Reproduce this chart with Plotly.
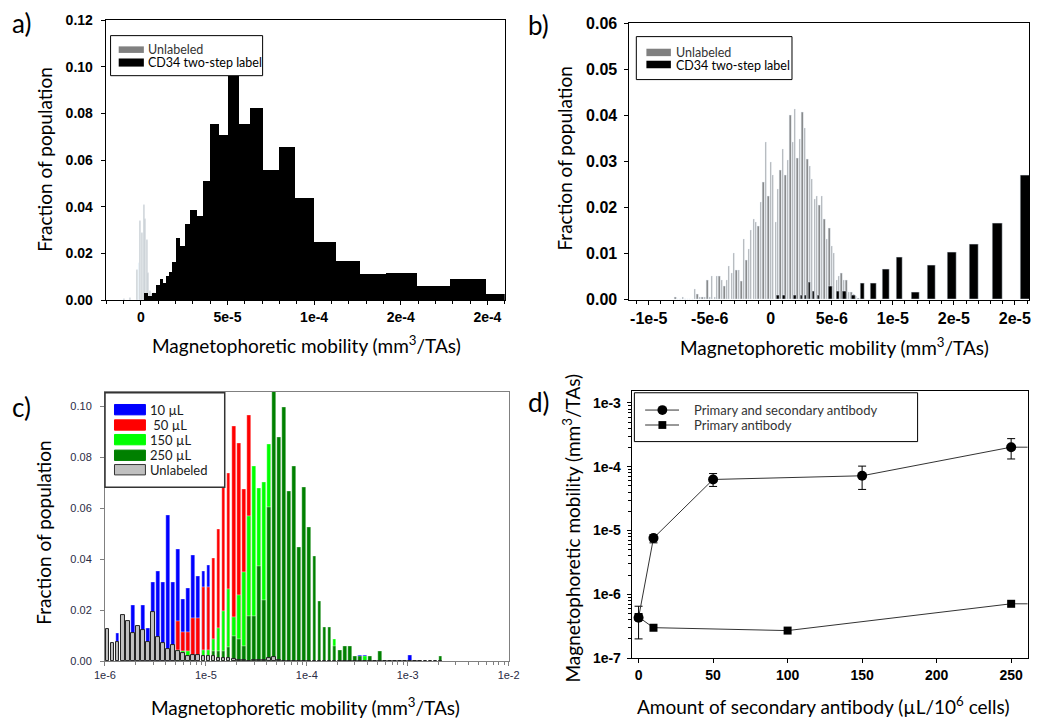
import numpy as np
import plotly.graph_objects as go

W, H = 1050, 726

# ---------------- a) CD34 two-step label vs unlabeled (whole range)
a_cd34_edges = [1.9e-6, 4.1e-6, 6.4e-6, 8.8e-6, 1.07e-5, 1.26e-5, 1.45e-5, 1.62e-5, 1.77e-5,
                2.01e-5, 2.26e-5, 2.52e-5, 2.82e-5, 3.20e-5, 3.54e-5, 3.99e-5, 4.48e-5, 5.00e-5,
                5.62e-5, 6.30e-5, 7.05e-5, 7.94e-5, 8.88e-5, 9.97e-5, 1.123e-4, 1.26e-4, 1.41e-4,
                1.59e-4, 1.78e-4, 1.99e-4, 2.2e-4]
a_cd34_frac = [0.003, 0.0017, 0.003, 0.0067, 0.0092, 0.0074, 0.0106, 0.012, 0.0162,
               0.0268, 0.0234, 0.0328, 0.0388, 0.036, 0.0509, 0.0753, 0.0707, 0.096,
               0.0753, 0.0824, 0.0559, 0.0658, 0.0436, 0.0251, 0.0167, 0.0111, 0.0116,
               0.0063, 0.0092, 0.0028]
a_unl_x = [-9.8e-6, -6.0e-6, -2.2e-6, -1.2e-6, -3e-7, 6e-7, 1.9e-6, 2.6e-6, 3.5e-6,
           4.4e-6, 5.3e-6, 6.4e-6, 7.5e-6]
a_unl_frac = [0.0005, 0.001, 0.013, 0.016, 0.034, 0.029, 0.041, 0.035, 0.026,
              0.0115, 0.004, 0.0025, 0.003]
a_tickvals = [0, 5e-5, 1e-4, 1.5e-4, 2e-4]
a_ticktext = ["0", "5e-5", "1e-4", "2e-4", "2e-4"]

# ---------------- b) same populations near zero
b_unl_first = -7.8e-6   # centre of first fine bin
b_unl_step = 2e-7
b_unl_frac = [0.0005, 0, 0, 0.0005, 0, 0, 0, 0,
              0.0022, 0.0011, 0.0006, 0.0006, 0.0006, 0.0043, 0.0006, 0.0050, 0.0006, 0.0050,
              0.0050, 0.0042, 0.0029, 0.0042, 0.0073, 0.0057, 0.0100, 0.0064, 0.0064, 0.0040,
              0.0130, 0.0086, 0.0110, 0.0151, 0.0174, 0.0167, 0.0160, 0.0211, 0.0255, 0.0342,
              0.0225, 0.0298, 0.0271, 0.0167, 0.0239, 0.0281, 0.0326, 0.0271, 0.0302, 0.0400,
              0.0342, 0.0414, 0.0306, 0.0349, 0.0407, 0.0372, 0.0304, 0.0289, 0.0262, 0.0218,
              0.0225, 0.0204, 0.0225, 0.0174, 0.0131, 0.0156, 0.0116, 0.0100, 0.0042, 0.0050,
              0.0057, 0.0042, 0.0042, 0.0015, 0.0015, 0.0011, 0.0008, 0.0004]
b_cd34_x = [6e-7, 1.1e-6, 2.0e-6, 2.5e-6, 2.85e-6, 3.2e-6, 3.5e-6, 3.9e-6, 4.9e-6, 5.5e-6,
            6.05e-6, 6.8e-6, 7.5e-6, 8.4e-6, 9.45e-6, 1.055e-5, 1.185e-5, 1.32e-5, 1.485e-5,
            1.665e-5, 1.86e-5, 2.085e-5]
b_cd34_frac = [0.001, 0.001, 0.001, 0.001, 0.001, 0.0037, 0.0018, 0.001, 0.0029, 0.0018,
               0.0018, 0.001, 0.0036, 0.0036, 0.0065, 0.0093, 0.0017, 0.0075, 0.0102,
               0.0120, 0.0166, 0.0269]
b_tickvals = [-1e-5, -5e-6, 0, 5e-6, 1e-5, 1.5e-5, 2e-5]
b_ticktext = ["-1e-5", "-5e-6", "0", "5e-6", "1e-5", "2e-5", "2e-5"]

# ---------------- c) titration of secondary antibody, 20 log bins per decade
c_first_log = -5.975
c_step_log = 0.05
c_10ul = [0, 0, 0.0109, 0, 0, 0.0220, 0, 0.0220, 0.0131, 0.0309,
          0.0353, 0.0309, 0.0573, 0.0309, 0.0439, 0.0243, 0.0287, 0.0417, 0.0332, 0.0353,
          0.0376, 0, 0, 0, 0, 0, 0, 0, 0, 0,
          0, 0, 0, 0, 0, 0, 0, 0, 0, 0,
          0, 0, 0, 0, 0, 0, 0, 0, 0, 0,
          0.0023, 0.0023, 0, 0, 0, 0, 0, 0, 0, 0,
          0.0023, 0, 0, 0, 0, 0, 0]
c_50ul = [0, 0, 0, 0, 0, 0, 0, 0, 0, 0,
          0, 0, 0, 0, 0.0157, 0.0112, 0.0112, 0.0167, 0.0170, 0.0292,
          0.0292, 0.0405, 0.0517, 0.0693, 0.0740, 0.0923, 0.0858, 0.0676, 0.0968, 0,
          0, 0, 0, 0, 0, 0, 0, 0, 0, 0,
          0, 0, 0, 0, 0, 0, 0, 0, 0, 0,
          0, 0, 0, 0, 0, 0, 0, 0, 0, 0,
          0, 0, 0, 0, 0, 0, 0]
c_150ul = [0, 0, 0, 0, 0, 0, 0, 0, 0, 0,
           0, 0, 0, 0, 0.0044, 0.0041, 0.0041, 0, 0, 0.0044,
           0.0044, 0.0087, 0.0129, 0.0197, 0.0283, 0.0174, 0.0260, 0.0351, 0.0568, 0.0766,
           0.0680, 0.0705, 0.0853, 0, 0, 0, 0, 0, 0, 0,
           0, 0, 0, 0, 0, 0.0087, 0, 0, 0, 0,
           0, 0.0018, 0, 0, 0, 0, 0, 0, 0, 0,
           0, 0, 0, 0, 0, 0, 0]
c_250ul = [0, 0, 0, 0, 0, 0, 0, 0, 0, 0,
           0, 0, 0, 0, 0, 0, 0.0010, 0.0018, 0, 0,
           0, 0.0038, 0.0038, 0.0041, 0.0056, 0.0097, 0.0085, 0.0059, 0.0177, 0.0177,
           0.0373, 0.0240, 0.0607, 0.1060, 0.0881, 0.1000, 0.0667, 0.0766, 0.0449, 0.0684,
           0.0527, 0.0411, 0.0234, 0.0135, 0.0135, 0.0060, 0.0043, 0.0058, 0.0058, 0.0019,
           0.0019, 0, 0.0019, 0, 0.0038, 0, 0, 0, 0, 0,
           0, 0, 0, 0, 0, 0, 0.0018]
c_unlabeled = [0.0127, 0.0069, 0.0076, 0.0182, 0.0156, 0.0108, 0.0137, 0.0121, 0.0076, 0.0193,
               0.0095, 0.0072, 0.0046, 0.0062, 0.0040, 0.0033, 0.0018, 0.0023, 0.0023, 0.0020,
               0.0018, 0.0020, 0.0012, 0.0010, 0.0010, 0.0006, 0.0004, 0.0004, 0, 0.0004,
               0.0003, 0.0002, 0.0012, 0.0014, 0.0003, 0, 0, 0, 0, 0,
               0, 0, 0, 0, 0, 0, 0, 0, 0, 0,
               0, 0, 0, 0, 0, 0, 0, 0, 0, 0,
               0, 0, 0, 0, 0, 0, 0]
c_decades = [-6, -5, -4, -3, -2]
c_ticktext = ["1e-6", "1e-5", "1e-4", "1e-3", "1e-2"]

# ---------------- d) mobility vs amount of secondary antibody
d_amount_both = [0, 10, 50, 150, 250, 500]
d_mob_both = [4.3e-7, 7.6e-6, 6.3e-5, 7.2e-5, 2.02e-4, 2.0e-4]
d_mob_both_hi = [6.5e-7, 8.6e-6, 7.8e-5, 1.02e-4, 2.75e-4, 2.0e-4]
d_mob_both_lo = [2.0e-7, 6.4e-6, 4.9e-5, 4.4e-5, 1.32e-4, 2.0e-4]
d_amount_prim = [0, 10, 100, 250, 500]
d_mob_prim = [4.4e-7, 3.0e-7, 2.7e-7, 7.1e-7, 7.0e-7]
d_ticks_y = [1e-7, 1e-6, 1e-5, 1e-4, 1e-3]
d_ticktext_y = ["1e-7", "1e-6", "1e-5", "1e-4", "1e-3"]

LABEL_FONT = "Lato"
TICK_BOLD = dict(family="Liberation Sans", size=14, color="black", weight="bold")


def px(x):
    return x / W


def py(y):
    return 1 - y / H


fig = go.Figure()

# a)
a_edges = np.array(a_cd34_edges)
fig.add_trace(go.Bar(x=a_unl_x, y=a_unl_frac, width=4e-7, marker_color="#a0a0a0",
                     xaxis="x", yaxis="y", showlegend=False))
fig.add_trace(go.Bar(x=(a_edges[:-1] + a_edges[1:]) / 2, y=a_cd34_frac, width=np.diff(a_edges),
                     marker_color="black", marker_line_width=0, xaxis="x", yaxis="y",
                     showlegend=False))

# b)
b_unl_x = b_unl_first + b_unl_step * np.arange(len(b_unl_frac))
fig.add_trace(go.Bar(x=b_unl_x, y=b_unl_frac, width=b_unl_step * 0.55, marker_color="#7a7a7a",
                     xaxis="x2", yaxis="y2", showlegend=False))
bx = np.array(b_cd34_x)
gaps = np.diff(bx)
nearest = np.minimum(np.r_[gaps[0], gaps], np.r_[gaps, gaps[-1] * 2])
fig.add_trace(go.Bar(x=bx, y=b_cd34_frac, width=np.clip(0.5 * nearest, 1.2e-7, 8e-7),
                     marker_color="black", xaxis="x2", yaxis="y2", showlegend=False))

# c)  drawn back to front
c_log = c_first_log + c_step_log * np.arange(len(c_10ul))
for vals, col, edge in [(c_10ul, "#0000ff", "white"), (c_50ul, "#ff0000", "white"),
                        (c_150ul, "#00ff00", "white"), (c_250ul, "#008000", "white"),
                        (c_unlabeled, "#c0c0c0", "#222222")]:
    fig.add_trace(go.Bar(x=c_log, y=vals, width=0.037, marker_color=col,
                         marker_line=dict(color=edge, width=0.4 if edge == "white" else 1),
                         xaxis="x3", yaxis="y3", showlegend=False))

# d)
both_y = np.array(d_mob_both)
fig.add_trace(go.Scatter(x=d_amount_both, y=d_mob_both, mode="lines+markers",
                         line=dict(color="#333333", width=1),
                         marker=dict(symbol="circle", size=10, color="black"),
                         error_y=dict(type="data", array=np.array(d_mob_both_hi) - both_y,
                                      arrayminus=both_y - np.array(d_mob_both_lo),
                                      color="black", thickness=1, width=4),
                         xaxis="x4", yaxis="y4", showlegend=False))
fig.add_trace(go.Scatter(x=d_amount_prim, y=d_mob_prim, mode="lines+markers",
                         line=dict(color="#333333", width=1),
                         marker=dict(symbol="square", size=8, color="black"),
                         xaxis="x4", yaxis="y4", showlegend=False))

axis_common = dict(showgrid=False, zeroline=False, showline=True, mirror=True,
                   linecolor="black", linewidth=1, ticks="outside", ticklen=4,
                   tickcolor="black")

fig.update_layout(
    width=W, height=H, margin=dict(l=0, r=0, t=0, b=0),
    paper_bgcolor="white", plot_bgcolor="white", barmode="overlay", bargap=0,
    xaxis=dict(axis_common, domain=[px(96.7), px(504.3)], anchor="y",
               range=[-2.03e-5, 2.1e-4], tickmode="array", tickvals=a_tickvals,
               ticktext=a_ticktext, tickfont=TICK_BOLD,
               minor=dict(tickmode="linear", tick0=0, dtick=1e-5, ticks="outside",
                          ticklen=3, tickcolor="black")),
    yaxis=dict(axis_common, domain=[py(299.3), py(12.3)], anchor="x", range=[0, 0.12],
               dtick=0.02, tickformat=".2f", tickfont=TICK_BOLD, ticklabelstandoff=5),
    xaxis2=dict(axis_common, domain=[px(631.7), px(1040)], anchor="y2",
                range=[-1.158e-5, 2.118e-5], tickmode="array", tickvals=b_tickvals,
                ticktext=b_ticktext, tickfont=dict(TICK_BOLD, size=16),
                minor=dict(tickmode="linear", tick0=0, dtick=1e-6, ticks="outside",
                           ticklen=3, tickcolor="black")),
    yaxis2=dict(axis_common, domain=[py(298.7), py(15.7)], anchor="x2", range=[0, 0.06],
                dtick=0.01, tickformat=".2f", tickfont=dict(TICK_BOLD, size=16),
                ticklabelstandoff=4),
    xaxis3=dict(axis_common, domain=[px(96), px(508.3)], anchor="y3", range=[-6, -2],
                linecolor="#808080", tickcolor="#808080", tickmode="array",
                tickvals=c_decades, ticktext=c_ticktext,
                tickfont=dict(family="Liberation Sans", size=11, color="#2b2b45"),
                minor=dict(tickmode="array", ticks="outside", ticklen=3, tickcolor="#808080",
                           tickvals=[d + np.log10(m) for d in c_decades[:-1] for m in range(2, 10)])),
    yaxis3=dict(axis_common, domain=[py(668.7), py(393.3)], anchor="x3", range=[0, 0.1057],
                linecolor="#808080", tickcolor="#808080", dtick=0.02, tickformat=".2f",
                tickfont=dict(family="Liberation Sans", size=11, color="#2b2b45"),
                ticklabelstandoff=6),
    xaxis4=dict(axis_common, domain=[px(634), px(1038.3)], anchor="y4", range=[-4.6, 261],
                tickvals=[0, 50, 100, 150, 200, 250], tickfont=TICK_BOLD),
    yaxis4=dict(axis_common, domain=[py(665.7), py(392.3)], anchor="x4", type="log",
                range=[-7, -2.816], tickmode="array", tickvals=d_ticks_y,
                ticktext=d_ticktext_y, tickfont=TICK_BOLD, ticklabelstandoff=3,
                minor=dict(tickmode="array", ticks="outside", ticklen=3, tickcolor="black",
                           tickvals=[m * 10.0 ** e for e in range(-7, -3) for m in range(2, 10)])),
)

shapes = []
ann = []


def rect(x0, y0, x1, y1, fill=None, line="black", lw=1):
    shapes.append(dict(type="rect", xref="paper", yref="paper",
                       x0=px(x0), x1=px(x1), y0=py(y1), y1=py(y0),
                       fillcolor=fill if fill else "rgba(0,0,0,0)",
                       line=dict(color=line, width=lw)))


def text(x, y, s, size=14, color="#333333", anchor="left", angle=0, family=LABEL_FONT):
    ann.append(dict(xref="paper", yref="paper", x=px(x), y=py(y), text=s, showarrow=False,
                    xanchor=anchor, yanchor="middle", textangle=angle, borderpad=0,
                    font=dict(family=family, size=size, color=color)))


# legend a
rect(101.7, 28.3, 257, 69.3, fill="white", lw=1)
rect(110, 39.3, 135.7, 46, fill="#808080", lw=0)
rect(110, 51.7, 135.7, 60, fill="black", lw=0)
text(139.3, 43, "Unlabeled", 12.5)
text(139.3, 56, "CD34 two-step label", 12.5, color="black")
# legend b
rect(638.7, 29.3, 797.7, 73.3, fill="white", lw=1)
rect(649, 41.7, 674, 49.3, fill="#808080", lw=0)
rect(649, 54, 674, 61.7, fill="black", lw=0)
text(678.3, 46, "Unlabeled", 12.5)
text(678.3, 59, "CD34 two-step label", 12.5, color="black")
# legend c
rect(96, 394, 218.3, 490.7, fill="white", line="#333333", lw=1.5)
c_leg = [("10 µL", "#0000ff", "#0000ff", 411.3), (" 50 µL", "#ff0000", "#ff0000", 427),
         ("150 µL", "#00ff00", "#00ff00", 442), ("250 µL", "#008000", "#008000", 458),
         ("Unlabeled", "#c0c0c0", "#333333", 472.8)]
for lab, col, edge, yc in c_leg:
    rect(105.7, yc - 5.3, 137.3, yc + 5.3, fill=col, line=edge, lw=1)
    text(140.5, yc, lab, 13, color="#1a1a1a")
# legend d
rect(636.7, 394, 926, 444, fill="white", lw=1)
for yc, sym in [(411.7, "circle"), (427, "square")]:
    shapes.append(dict(type="line", xref="paper", yref="paper", x0=px(647.7), x1=px(682.3),
                       y0=py(yc), y1=py(yc), line=dict(color="#333333", width=1)))
    r = 5 if sym == "circle" else 4
    shapes.append(dict(type="circle" if sym == "circle" else "rect", xref="paper", yref="paper",
                       x0=px(665.3 - r), x1=px(665.3 + r), y0=py(yc + r), y1=py(yc - r),
                       fillcolor="black", line=dict(color="black", width=0)))
text(696.7, 411.7, "Primary and secondary antibody", 13)
text(696.7, 427, "Primary antibody", 13)

# panel letters
for lab, x, y in [("a)", 0, 15), ("b)", 527, 17), ("c)", 0, 409), ("d)", 527, 403)]:
    text(x, y, lab, 26, color="black")

# axis titles
mob = "Magnetophoretic mobility (mm<sup>3</sup>/TAs)"
text(34, 155, "Fraction of population", 19, color="black", anchor="center", angle=-90)
text(302, 345, mob, 19, color="black", anchor="center")
text(565, 154, "Fraction of population", 19, color="black", anchor="center", angle=-90)
text(841, 347, mob, 19, color="black", anchor="center")
text(33, 537, "Fraction of population", 19, color="black", anchor="center", angle=-90)
text(301, 715, mob, 19, color="black", anchor="center")
text(573, 532, mob, 19, color="black", anchor="center", angle=-90)
text(829, 714, "Amount of secondary antibody (µL/10<sup>6</sup> cells)", 19, color="black",
     anchor="center")

fig.update_layout(shapes=shapes, annotations=ann)
# the page body has a default 8px margin; drop it so the figure fills the window
fig.write_html("out.html", config={"displayModeBar": False},
               post_script="document.body.style.margin='0px';")
